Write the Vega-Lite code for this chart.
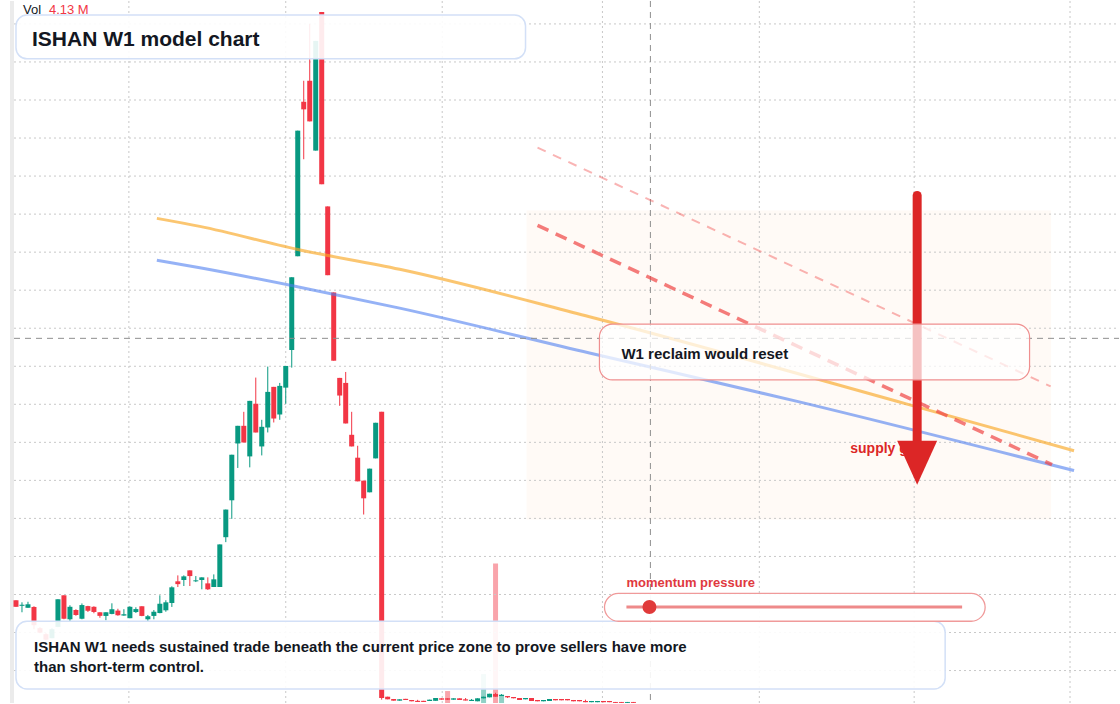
{
  "$schema": "https://vega.github.io/schema/vega-lite/v6.json",
  "width": 1120,
  "height": 704,
  "autosize": {"type": "fit", "contains": "padding"},
  "padding": 0,
  "background": "#ffffff",
  "config": {"view": {"stroke": null}, "scale": {"continuousPadding": 0}},
  "datasets": {
    "candles": [
      {"i":0,"dir":"down","o":1.424,"c":1.338,"h":1.424,"l":1.338},
      {"i":1,"dir":"up","o":1.351,"c":1.365,"h":1.397,"l":1.266},
      {"i":2,"dir":"up","o":1.325,"c":1.371,"h":1.404,"l":1.325},
      {"i":3,"dir":"down","o":1.336,"c":1.096,"h":1.345,"l":1.043},
      {"i":4,"dir":"down","o":1.057,"c":0.998,"h":1.070,"l":0.991},
      {"i":5,"dir":"down","o":0.978,"c":0.906,"h":0.991,"l":0.899},
      {"i":6,"dir":"up","o":0.925,"c":1.043,"h":1.057,"l":0.925},
      {"i":7,"dir":"up","o":1.074,"c":1.437,"h":1.437,"l":1.070},
      {"i":8,"dir":"down","o":1.489,"c":1.181,"h":1.489,"l":1.174},
      {"i":9,"dir":"up","o":1.174,"c":1.338,"h":1.358,"l":1.152},
      {"i":10,"dir":"down","o":1.296,"c":1.230,"h":1.306,"l":1.220},
      {"i":11,"dir":"up","o":1.181,"c":1.361,"h":1.382,"l":1.174},
      {"i":12,"dir":"down","o":1.347,"c":1.286,"h":1.351,"l":1.270},
      {"i":13,"dir":"down","o":1.338,"c":1.270,"h":1.345,"l":1.253},
      {"i":14,"dir":"down","o":1.266,"c":1.219,"h":1.266,"l":1.194},
      {"i":15,"dir":"up","o":1.218,"c":1.266,"h":1.266,"l":1.161},
      {"i":16,"dir":"up","o":1.244,"c":1.306,"h":1.384,"l":1.240},
      {"i":17,"dir":"down","o":1.288,"c":1.227,"h":1.312,"l":1.220},
      {"i":18,"dir":"up","o":1.223,"c":1.240,"h":1.306,"l":1.220},
      {"i":19,"dir":"up","o":1.188,"c":1.338,"h":1.345,"l":1.188},
      {"i":20,"dir":"up","o":1.269,"c":1.308,"h":1.332,"l":1.257},
      {"i":21,"dir":"down","o":1.345,"c":1.218,"h":1.345,"l":1.214},
      {"i":22,"dir":"up","o":1.174,"c":1.214,"h":1.231,"l":1.152},
      {"i":23,"dir":"up","o":1.218,"c":1.273,"h":1.296,"l":1.174},
      {"i":24,"dir":"up","o":1.256,"c":1.378,"h":1.489,"l":1.253},
      {"i":25,"dir":"up","o":1.292,"c":1.397,"h":1.424,"l":1.273},
      {"i":26,"dir":"up","o":1.388,"c":1.594,"h":1.607,"l":1.336},
      {"i":27,"dir":"down","o":1.673,"c":1.636,"h":1.751,"l":1.598},
      {"i":28,"dir":"up","o":1.690,"c":1.738,"h":1.751,"l":1.611},
      {"i":29,"dir":"down","o":1.817,"c":1.742,"h":1.817,"l":1.611},
      {"i":30,"dir":"up","o":1.673,"c":1.686,"h":1.742,"l":1.663},
      {"i":31,"dir":"up","o":1.690,"c":1.725,"h":1.725,"l":1.568},
      {"i":32,"dir":"down","o":1.646,"c":1.568,"h":1.725,"l":1.559},
      {"i":33,"dir":"up","o":1.598,"c":1.699,"h":1.764,"l":1.598},
      {"i":34,"dir":"up","o":1.598,"c":2.158,"h":2.158,"l":1.598},
      {"i":35,"dir":"up","o":2.253,"c":2.616,"h":2.616,"l":2.188},
      {"i":36,"dir":"up","o":2.738,"c":3.337,"h":3.337,"l":2.494},
      {"i":37,"dir":"up","o":3.485,"c":3.717,"h":3.717,"l":3.163},
      {"i":38,"dir":"down","o":3.717,"c":3.498,"h":3.901,"l":3.498},
      {"i":39,"dir":"up","o":3.315,"c":4.045,"h":4.045,"l":3.171},
      {"i":40,"dir":"down","o":4.006,"c":3.630,"h":4.351,"l":3.630},
      {"i":41,"dir":"up","o":3.446,"c":3.704,"h":3.796,"l":3.328},
      {"i":42,"dir":"up","o":3.695,"c":4.163,"h":4.495,"l":3.630},
      {"i":43,"dir":"down","o":4.229,"c":3.813,"h":4.229,"l":3.761},
      {"i":44,"dir":"up","o":3.866,"c":4.242,"h":4.281,"l":3.796},
      {"i":45,"dir":"up","o":4.219,"c":4.504,"h":4.504,"l":4.006},
      {"i":46,"dir":"up","o":4.714,"c":5.670,"h":5.670,"l":4.482},
      {"i":47,"dir":"up","o":5.946,"c":7.597,"h":7.597,"l":5.946},
      {"i":48,"dir":"down","o":7.977,"c":7.877,"h":8.253,"l":7.221},
      {"i":49,"dir":"down","o":8.253,"c":7.719,"h":9.000,"l":7.719},
      {"i":50,"dir":"up","o":7.335,"c":8.777,"h":8.777,"l":7.335},
      {"i":51,"dir":"down","o":9.157,"c":6.893,"h":9.157,"l":6.893},
      {"i":52,"dir":"down","o":6.601,"c":5.697,"h":6.601,"l":5.697},
      {"i":53,"dir":"down","o":5.470,"c":4.573,"h":5.470,"l":4.573},
      {"i":54,"dir":"down","o":4.347,"c":4.115,"h":4.347,"l":3.980},
      {"i":55,"dir":"down","o":4.281,"c":3.748,"h":4.425,"l":3.748},
      {"i":56,"dir":"down","o":3.599,"c":3.446,"h":3.901,"l":3.446},
      {"i":57,"dir":"down","o":3.298,"c":2.987,"h":3.455,"l":2.987},
      {"i":58,"dir":"down","o":2.996,"c":2.764,"h":2.996,"l":2.551},
      {"i":59,"dir":"up","o":2.843,"c":3.154,"h":3.154,"l":2.843},
      {"i":60,"dir":"up","o":3.289,"c":3.757,"h":3.757,"l":3.289},
      {"i":61,"dir":"down","o":3.901,"c":0.139,"h":3.901,"l":0.117},
      {"i":62,"dir":"down","o":0.156,"c":0.122,"h":0.156,"l":0.122},
      {"i":63,"dir":"down","o":0.126,"c":0.104,"h":0.126,"l":0.104},
      {"i":64,"dir":"up","o":0.104,"c":0.122,"h":0.122,"l":0.104},
      {"i":65,"dir":"down","o":0.128,"c":0.113,"h":0.128,"l":0.113},
      {"i":66,"dir":"down","o":0.113,"c":0.096,"h":0.113,"l":0.096},
      {"i":67,"dir":"down","o":0.102,"c":0.087,"h":0.115,"l":0.087},
      {"i":68,"dir":"down","o":0.102,"c":0.087,"h":0.102,"l":0.087},
      {"i":69,"dir":"up","o":0.100,"c":0.117,"h":0.117,"l":0.100},
      {"i":70,"dir":"up","o":0.102,"c":0.139,"h":0.139,"l":0.102},
      {"i":71,"dir":"down","o":0.135,"c":0.117,"h":0.135,"l":0.117},
      {"i":72,"dir":"down","o":0.135,"c":0.117,"h":0.135,"l":0.117},
      {"i":73,"dir":"up","o":0.117,"c":0.135,"h":0.135,"l":0.117},
      {"i":74,"dir":"down","o":0.135,"c":0.113,"h":0.135,"l":0.113},
      {"i":75,"dir":"down","o":0.122,"c":0.106,"h":0.139,"l":0.106},
      {"i":76,"dir":"up","o":0.100,"c":0.115,"h":0.126,"l":0.100},
      {"i":77,"dir":"up","o":0.096,"c":0.135,"h":0.135,"l":0.096},
      {"i":78,"dir":"up","o":0.135,"c":0.156,"h":0.156,"l":0.135},
      {"i":79,"dir":"up","o":0.148,"c":0.195,"h":0.195,"l":0.148},
      {"i":80,"dir":"down","o":0.191,"c":0.156,"h":0.208,"l":0.156},
      {"i":81,"dir":"up","o":0.165,"c":0.182,"h":0.191,"l":0.165},
      {"i":82,"dir":"down","o":0.165,"c":0.148,"h":0.165,"l":0.139},
      {"i":83,"dir":"down","o":0.152,"c":0.135,"h":0.152,"l":0.135},
      {"i":84,"dir":"down","o":0.139,"c":0.113,"h":0.139,"l":0.113},
      {"i":85,"dir":"up","o":0.122,"c":0.139,"h":0.139,"l":0.122},
      {"i":86,"dir":"down","o":0.139,"c":0.100,"h":0.139,"l":0.100},
      {"i":87,"dir":"down","o":0.113,"c":0.096,"h":0.113,"l":0.096},
      {"i":88,"dir":"up","o":0.096,"c":0.113,"h":0.113,"l":0.096},
      {"i":89,"dir":"up","o":0.100,"c":0.126,"h":0.126,"l":0.100},
      {"i":90,"dir":"down","o":0.126,"c":0.109,"h":0.126,"l":0.109},
      {"i":91,"dir":"down","o":0.126,"c":0.109,"h":0.126,"l":0.109},
      {"i":92,"dir":"down","o":0.126,"c":0.109,"h":0.126,"l":0.109},
      {"i":93,"dir":"down","o":0.113,"c":0.096,"h":0.113,"l":0.096},
      {"i":94,"dir":"down","o":0.113,"c":0.096,"h":0.113,"l":0.096},
      {"i":95,"dir":"down","o":0.100,"c":0.084,"h":0.117,"l":0.084},
      {"i":96,"dir":"up","o":0.084,"c":0.100,"h":0.100,"l":0.084},
      {"i":97,"dir":"up","o":0.084,"c":0.100,"h":0.100,"l":0.084},
      {"i":98,"dir":"down","o":0.100,"c":0.084,"h":0.100,"l":0.084},
      {"i":99,"dir":"down","o":0.100,"c":0.084,"h":0.100,"l":0.084},
      {"i":100,"dir":"down","o":0.087,"c":0.075,"h":0.087,"l":0.075},
      {"i":101,"dir":"down","o":0.087,"c":0.075,"h":0.087,"l":0.075},
      {"i":102,"dir":"up","o":0.075,"c":0.087,"h":0.087,"l":0.075},
      {"i":103,"dir":"down","o":0.087,"c":0.075,"h":0.087,"l":0.075}
    ],
    "volume": [
      {"i":72,"dir":"down","v":0.354},
      {"i":78,"dir":"up","v":0.856},
      {"i":80,"dir":"down","v":4.13},
      {"i":81,"dir":"up","v":0.221}
    ],
    "gridx": [{"i":18.83},{"i":45},{"i":71.1},{"i":97.83},{"i":124},{"i":149.83},{"i":175.83}],
    "gridy": [
      {"p":0.5},{"p":1},{"p":1.5},{"p":2},{"p":2.5},{"p":3},{"p":3.5},{"p":4},{"p":4.5},
      {"p":5},{"p":5.5},{"p":6},{"p":6.5},{"p":7},{"p":7.5},{"p":8},{"p":8.5},{"p":9}
    ],
    "guides": [
      {"name":"upper","i":23.5,"p":6.444},
      {"name":"upper","i":30.667,"p":6.339},
      {"name":"upper","i":46.833,"p":6.038},
      {"name":"upper","i":64.0,"p":5.775},
      {"name":"upper","i":95.667,"p":5.150},
      {"name":"upper","i":148.5,"p":4.006},
      {"name":"upper","i":176.5,"p":3.390},
      {"name":"lower","i":23.5,"p":5.893},
      {"name":"lower","i":30.667,"p":5.795},
      {"name":"lower","i":47.333,"p":5.539},
      {"name":"lower","i":64.0,"p":5.264},
      {"name":"lower","i":95.667,"p":4.674},
      {"name":"lower","i":130.667,"p":4.032},
      {"name":"lower","i":176.5,"p":3.128}
    ],
    "dashes": [
      {"name":"supply","i1":87.0,"p1":6.352,"i2":172.83,"p2":3.206},
      {"name":"ceiling","i1":87.0,"p1":7.374,"i2":172.6,"p2":4.235}
    ],
    "boxes": [
      {"name":"title","i1":0,"i2":85,"p1":9.118,"p2":8.541},
      {"name":"note","i1":0,"i2":155,"p1":1.148,"p2":0.257},
      {"name":"reclaim","i1":97.33,"i2":169.08,"p1":5.054,"p2":4.320},
      {"name":"pill","i1":98.17,"i2":161.67,"p1":1.515,"p2":1.148}
    ],
    "labels": [
      {"name":"vol","text":"Vol","i":1.167,"p":9.131},
      {"name":"volv","text":"4.13 M","i":5.5,"p":9.131},
      {"name":"title","text":"ISHAN W1 model chart","i":2.667,"p":8.711},
      {"name":"note","text":"ISHAN W1 needs sustained trade beneath the current price zone to prove sellers have more\nthan short-term control.","i":3.0,"p":0.742},
      {"name":"reclaim","text":"W1 reclaim would reset","i":101,"p":4.596},
      {"name":"supply","text":"supply gate","i":139.17,"p":3.363},
      {"name":"momentum","text":"momentum pressure","i":101.83,"p":1.600}
    ]
  },
  "layer": [
    {
      "data": {"name": "volume"},
      "mark": {"type": "bar", "orient": "vertical", "width": 5, "opacity": 0.45},
      "encoding": {
        "x": {"field": "i", "type": "quantitative", "scale": {"domain": [-2.667, 184], "nice": false, "zero": false, "padding": 0}, "axis": null},
        "y": {"field": "v", "type": "quantitative", "scale": {"domain": [0, 20.77], "nice": false, "zero": true, "padding": 0}, "axis": null},
        "color": {"field": "dir", "type": "nominal", "scale": {"domain": ["up", "down"], "range": ["#089981", "#f23645"]}, "legend": null}
      }
    },
    {
      "layer": [
        {
          "data": {"values": [{"i1": 85.17, "i2": 172.67, "p1": 6.549, "p2": 2.485}]},
          "mark": {"type": "rect", "fill": "#fff6ee", "opacity": 0.5},
          "encoding": {
            "x": {"field": "i1", "type": "quantitative", "scale": {"domain": [-2.667, 184], "nice": false, "zero": false, "padding": 0}, "axis": null},
            "x2": {"field": "i2"},
            "y": {"field": "p1", "type": "quantitative", "scale": {"domain": [0.0734, 9.3014], "nice": false, "zero": false, "padding": 0}, "axis": null},
            "y2": {"field": "p2"}
          }
        },
        {
          "data": {"name": "gridx"},
          "mark": {"type": "rule", "stroke": "#c8c8c8", "strokeWidth": 1, "strokeDash": [2, 3]},
          "encoding": {
            "x": {"field": "i", "type": "quantitative", "scale": {"domain": [-2.667, 184], "nice": false, "zero": false, "padding": 0}, "axis": null}
          }
        },
        {
          "data": {"name": "gridy"},
          "mark": {"type": "rule", "stroke": "#c8c8c8", "strokeWidth": 1, "strokeDash": [2, 3]},
          "encoding": {
            "x": {"datum": -0.33, "type": "quantitative", "scale": {"domain": [-2.667, 184], "nice": false, "zero": false, "padding": 0}, "axis": null},
            "x2": {"datum": 184},
            "y": {"field": "p", "type": "quantitative", "scale": {"domain": [0.0734, 9.3014], "nice": false, "zero": false, "padding": 0}, "axis": null}
          }
        },
        {
          "data": {"values": [{"i1": -1.0, "i2": -0.33, "p1": 9.3014, "p2": 0.0734}]},
          "mark": {"type": "rect", "fill": "#ebebeb"},
          "encoding": {
            "x": {"field": "i1", "type": "quantitative", "scale": {"domain": [-2.667, 184], "nice": false, "zero": false, "padding": 0}, "axis": null},
            "x2": {"field": "i2"},
            "y": {"field": "p1", "type": "quantitative", "scale": {"domain": [0.0734, 9.3014], "nice": false, "zero": false, "padding": 0}, "axis": null},
            "y2": {"field": "p2"}
          }
        },
        {
          "data": {"name": "candles"},
          "mark": {"type": "rule", "strokeWidth": 1},
          "encoding": {
            "x": {"field": "i", "type": "quantitative", "scale": {"domain": [-2.667, 184], "nice": false, "zero": false, "padding": 0}, "axis": null},
            "y": {"field": "h", "type": "quantitative", "scale": {"domain": [0.0734, 9.3014], "nice": false, "zero": false, "padding": 0}, "axis": null},
            "y2": {"field": "l"},
            "color": {"field": "dir", "type": "nominal", "scale": {"domain": ["up", "down"], "range": ["#089981", "#f23645"]}, "legend": null}
          }
        },
        {
          "data": {"name": "candles"},
          "mark": {"type": "bar", "orient": "vertical", "width": 5},
          "encoding": {
            "x": {"field": "i", "type": "quantitative", "scale": {"domain": [-2.667, 184], "nice": false, "zero": false, "padding": 0}, "axis": null},
            "y": {"field": "o", "type": "quantitative", "scale": {"domain": [0.0734, 9.3014], "nice": false, "zero": false, "padding": 0}, "axis": null},
            "y2": {"field": "c"},
            "color": {"field": "dir", "type": "nominal", "scale": {"domain": ["up", "down"], "range": ["#089981", "#f23645"]}, "legend": null}
          }
        },
        {
          "data": {"name": "guides"},
          "transform": [{"filter": "datum.name === 'upper'"}],
          "mark": {"type": "line", "stroke": "#f9a825", "strokeWidth": 3, "opacity": 0.65, "interpolate": "monotone"},
          "encoding": {
            "x": {"field": "i", "type": "quantitative", "scale": {"domain": [-2.667, 184], "nice": false, "zero": false, "padding": 0}, "axis": null},
            "y": {"field": "p", "type": "quantitative", "scale": {"domain": [0.0734, 9.3014], "nice": false, "zero": false, "padding": 0}, "axis": null}
          }
        },
        {
          "data": {"name": "guides"},
          "transform": [{"filter": "datum.name === 'lower'"}],
          "mark": {"type": "line", "stroke": "#4f7ff0", "strokeWidth": 3, "opacity": 0.6, "interpolate": "monotone"},
          "encoding": {
            "x": {"field": "i", "type": "quantitative", "scale": {"domain": [-2.667, 184], "nice": false, "zero": false, "padding": 0}, "axis": null},
            "y": {"field": "p", "type": "quantitative", "scale": {"domain": [0.0734, 9.3014], "nice": false, "zero": false, "padding": 0}, "axis": null}
          }
        },
        {
          "data": {"values": [{"i": 105.83}]},
          "mark": {"type": "rule", "stroke": "#8f8f8f", "strokeWidth": 1, "strokeDash": [6, 5]},
          "encoding": {
            "x": {"field": "i", "type": "quantitative", "scale": {"domain": [-2.667, 184], "nice": false, "zero": false, "padding": 0}, "axis": null}
          }
        },
        {
          "data": {"values": [{"i1": -0.33, "i2": 184, "p": 4.867}]},
          "mark": {"type": "rule", "stroke": "#8f8f8f", "strokeWidth": 1, "strokeDash": [6, 5]},
          "encoding": {
            "x": {"field": "i1", "type": "quantitative", "scale": {"domain": [-2.667, 184], "nice": false, "zero": false, "padding": 0}, "axis": null},
            "x2": {"field": "i2"},
            "y": {"field": "p", "type": "quantitative", "scale": {"domain": [0.0734, 9.3014], "nice": false, "zero": false, "padding": 0}, "axis": null}
          }
        },
        {
          "data": {"name": "dashes"},
          "transform": [{"filter": "datum.name === 'ceiling'"}],
          "mark": {"type": "rule", "stroke": "#ef4444", "strokeWidth": 2, "opacity": 0.4, "strokeDash": [9, 8]},
          "encoding": {
            "x": {"field": "i1", "type": "quantitative", "scale": {"domain": [-2.667, 184], "nice": false, "zero": false, "padding": 0}, "axis": null},
            "x2": {"field": "i2"},
            "y": {"field": "p1", "type": "quantitative", "scale": {"domain": [0.0734, 9.3014], "nice": false, "zero": false, "padding": 0}, "axis": null},
            "y2": {"field": "p2"}
          }
        },
        {
          "data": {"name": "dashes"},
          "transform": [{"filter": "datum.name === 'supply'"}],
          "mark": {"type": "rule", "stroke": "#ef4444", "strokeWidth": 3.5, "opacity": 0.7, "strokeDash": [12, 8]},
          "encoding": {
            "x": {"field": "i1", "type": "quantitative", "scale": {"domain": [-2.667, 184], "nice": false, "zero": false, "padding": 0}, "axis": null},
            "x2": {"field": "i2"},
            "y": {"field": "p1", "type": "quantitative", "scale": {"domain": [0.0734, 9.3014], "nice": false, "zero": false, "padding": 0}, "axis": null},
            "y2": {"field": "p2"}
          }
        },
        {
          "data": {"values": [{"i": 150.33, "p1": 6.745, "p2": 3.468}]},
          "mark": {"type": "rule", "stroke": "#dc2626", "strokeWidth": 9, "strokeCap": "round"},
          "encoding": {
            "x": {"field": "i", "type": "quantitative", "scale": {"domain": [-2.667, 184], "nice": false, "zero": false, "padding": 0}, "axis": null},
            "y": {"field": "p1", "type": "quantitative", "scale": {"domain": [0.0734, 9.3014], "nice": false, "zero": false, "padding": 0}, "axis": null},
            "y2": {"field": "p2"}
          }
        },
        {
          "data": {"name": "labels"},
          "transform": [{"filter": "datum.name === 'supply'"}],
          "mark": {"type": "text", "align": "left", "baseline": "alphabetic", "font": "Liberation Sans", "fontSize": 14, "fontWeight": "bold", "fill": "#dc2626"},
          "encoding": {
            "x": {"field": "i", "type": "quantitative", "scale": {"domain": [-2.667, 184], "nice": false, "zero": false, "padding": 0}, "axis": null},
            "y": {"field": "p", "type": "quantitative", "scale": {"domain": [0.0734, 9.3014], "nice": false, "zero": false, "padding": 0}, "axis": null},
            "text": {"field": "text"}
          }
        },
        {
          "data": {"values": [{"i": 150.33, "p": 3.259}]},
          "mark": {"type": "point", "shape": "M-1,-1L1,-1L0,1.2Z", "size": 1600, "filled": true, "fill": "#dc2626", "opacity": 1, "strokeWidth": 0},
          "encoding": {
            "x": {"field": "i", "type": "quantitative", "scale": {"domain": [-2.667, 184], "nice": false, "zero": false, "padding": 0}, "axis": null},
            "y": {"field": "p", "type": "quantitative", "scale": {"domain": [0.0734, 9.3014], "nice": false, "zero": false, "padding": 0}, "axis": null}
          }
        },
        {
          "data": {"name": "boxes"},
          "transform": [{"filter": "datum.name === 'title' || datum.name === 'note'"}],
          "mark": {"type": "rect", "fill": "#ffffff", "fillOpacity": 0.9, "stroke": "#d3e0f7", "strokeWidth": 1.5, "cornerRadius": 11},
          "encoding": {
            "x": {"field": "i1", "type": "quantitative", "scale": {"domain": [-2.667, 184], "nice": false, "zero": false, "padding": 0}, "axis": null},
            "x2": {"field": "i2"},
            "y": {"field": "p1", "type": "quantitative", "scale": {"domain": [0.0734, 9.3014], "nice": false, "zero": false, "padding": 0}, "axis": null},
            "y2": {"field": "p2"}
          }
        },
        {
          "data": {"name": "boxes"},
          "transform": [{"filter": "datum.name === 'reclaim'"}],
          "mark": {"type": "rect", "fill": "#ffffff", "fillOpacity": 0.72, "stroke": "#ef8f8f", "strokeWidth": 1.2, "cornerRadius": 13},
          "encoding": {
            "x": {"field": "i1", "type": "quantitative", "scale": {"domain": [-2.667, 184], "nice": false, "zero": false, "padding": 0}, "axis": null},
            "x2": {"field": "i2"},
            "y": {"field": "p1", "type": "quantitative", "scale": {"domain": [0.0734, 9.3014], "nice": false, "zero": false, "padding": 0}, "axis": null},
            "y2": {"field": "p2"}
          }
        },
        {
          "data": {"name": "boxes"},
          "transform": [{"filter": "datum.name === 'pill'"}],
          "mark": {"type": "rect", "fill": "#ffffff", "fillOpacity": 0.95, "stroke": "#f09a9a", "strokeWidth": 1.3, "cornerRadius": 14},
          "encoding": {
            "x": {"field": "i1", "type": "quantitative", "scale": {"domain": [-2.667, 184], "nice": false, "zero": false, "padding": 0}, "axis": null},
            "x2": {"field": "i2"},
            "y": {"field": "p1", "type": "quantitative", "scale": {"domain": [0.0734, 9.3014], "nice": false, "zero": false, "padding": 0}, "axis": null},
            "y2": {"field": "p2"}
          }
        },
        {
          "data": {"values": [{"i1": 101.83, "i2": 157.83, "p": 1.336}]},
          "mark": {"type": "rule", "stroke": "#ee8a8a", "strokeWidth": 3},
          "encoding": {
            "x": {"field": "i1", "type": "quantitative", "scale": {"domain": [-2.667, 184], "nice": false, "zero": false, "padding": 0}, "axis": null},
            "x2": {"field": "i2"},
            "y": {"field": "p", "type": "quantitative", "scale": {"domain": [0.0734, 9.3014], "nice": false, "zero": false, "padding": 0}, "axis": null}
          }
        },
        {
          "data": {"values": [{"i": 105.67, "p": 1.336}]},
          "mark": {"type": "circle", "size": 196, "fill": "#e03a3a", "opacity": 1},
          "encoding": {
            "x": {"field": "i", "type": "quantitative", "scale": {"domain": [-2.667, 184], "nice": false, "zero": false, "padding": 0}, "axis": null},
            "y": {"field": "p", "type": "quantitative", "scale": {"domain": [0.0734, 9.3014], "nice": false, "zero": false, "padding": 0}, "axis": null}
          }
        },
        {
          "data": {"name": "labels"},
          "transform": [{"filter": "datum.name === 'vol'"}],
          "mark": {"type": "text", "align": "left", "baseline": "alphabetic", "font": "Liberation Sans", "fontSize": 13, "fill": "#131722"},
          "encoding": {
            "x": {"field": "i", "type": "quantitative", "scale": {"domain": [-2.667, 184], "nice": false, "zero": false, "padding": 0}, "axis": null},
            "y": {"field": "p", "type": "quantitative", "scale": {"domain": [0.0734, 9.3014], "nice": false, "zero": false, "padding": 0}, "axis": null},
            "text": {"field": "text"}
          }
        },
        {
          "data": {"name": "labels"},
          "transform": [{"filter": "datum.name === 'volv'"}],
          "mark": {"type": "text", "align": "left", "baseline": "alphabetic", "font": "Liberation Sans", "fontSize": 13, "fill": "#f23645"},
          "encoding": {
            "x": {"field": "i", "type": "quantitative", "scale": {"domain": [-2.667, 184], "nice": false, "zero": false, "padding": 0}, "axis": null},
            "y": {"field": "p", "type": "quantitative", "scale": {"domain": [0.0734, 9.3014], "nice": false, "zero": false, "padding": 0}, "axis": null},
            "text": {"field": "text"}
          }
        },
        {
          "data": {"name": "labels"},
          "transform": [{"filter": "datum.name === 'title'"}],
          "mark": {"type": "text", "align": "left", "baseline": "alphabetic", "font": "Liberation Sans", "fontSize": 21, "fontWeight": "bold", "fill": "#131722"},
          "encoding": {
            "x": {"field": "i", "type": "quantitative", "scale": {"domain": [-2.667, 184], "nice": false, "zero": false, "padding": 0}, "axis": null},
            "y": {"field": "p", "type": "quantitative", "scale": {"domain": [0.0734, 9.3014], "nice": false, "zero": false, "padding": 0}, "axis": null},
            "text": {"field": "text"}
          }
        },
        {
          "data": {"name": "labels"},
          "transform": [{"filter": "datum.name === 'note'"}],
          "mark": {"type": "text", "align": "left", "baseline": "alphabetic", "font": "Liberation Sans", "fontSize": 15, "fontWeight": "bold", "fill": "#131722", "lineBreak": "\n", "lineHeight": 20},
          "encoding": {
            "x": {"field": "i", "type": "quantitative", "scale": {"domain": [-2.667, 184], "nice": false, "zero": false, "padding": 0}, "axis": null},
            "y": {"field": "p", "type": "quantitative", "scale": {"domain": [0.0734, 9.3014], "nice": false, "zero": false, "padding": 0}, "axis": null},
            "text": {"field": "text"}
          }
        },
        {
          "data": {"name": "labels"},
          "transform": [{"filter": "datum.name === 'reclaim'"}],
          "mark": {"type": "text", "align": "left", "baseline": "alphabetic", "font": "Liberation Sans", "fontSize": 15, "fontWeight": "bold", "fill": "#131722"},
          "encoding": {
            "x": {"field": "i", "type": "quantitative", "scale": {"domain": [-2.667, 184], "nice": false, "zero": false, "padding": 0}, "axis": null},
            "y": {"field": "p", "type": "quantitative", "scale": {"domain": [0.0734, 9.3014], "nice": false, "zero": false, "padding": 0}, "axis": null},
            "text": {"field": "text"}
          }
        },
        {
          "data": {"name": "labels"},
          "transform": [{"filter": "datum.name === 'momentum'"}],
          "mark": {"type": "text", "align": "left", "baseline": "alphabetic", "font": "Liberation Sans", "fontSize": 13, "fontWeight": "bold", "fill": "#e0393e"},
          "encoding": {
            "x": {"field": "i", "type": "quantitative", "scale": {"domain": [-2.667, 184], "nice": false, "zero": false, "padding": 0}, "axis": null},
            "y": {"field": "p", "type": "quantitative", "scale": {"domain": [0.0734, 9.3014], "nice": false, "zero": false, "padding": 0}, "axis": null},
            "text": {"field": "text"}
          }
        }
      ]
    }
  ],
  "resolve": {"scale": {"y": "independent"}}
}
